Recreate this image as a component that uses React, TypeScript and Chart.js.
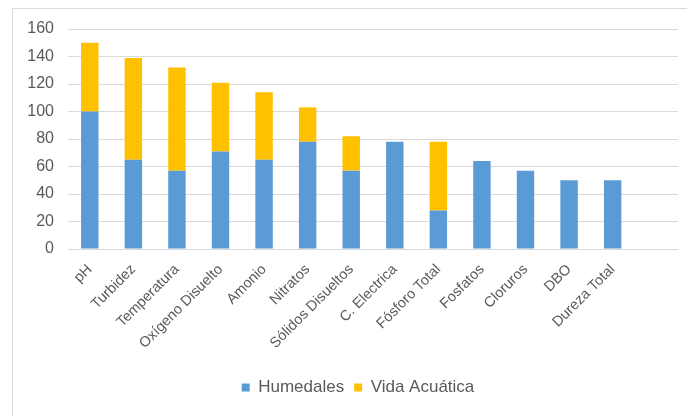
import React, { useEffect, useRef } from "react";
import { Chart, registerables } from "chart.js";

Chart.register(...registerables);

const categories = [
  "pH",
  "Turbidez",
  "Temperatura",
  "Oxígeno Disuelto",
  "Amonio",
  "Nitratos",
  "Sólidos Disueltos",
  "C. Electrica",
  "Fósforo Total",
  "Fosfatos",
  "Cloruros",
  "DBO",
  "Dureza Total",
  "",
];

const humedales = [100, 65, 57, 71, 65, 78, 57, 78, 28, 64, 57, 50, 50, null];
const vidaAcuatica = [50, 74, 75, 50, 49, 25, 25, null, 50, null, null, null, null, null];

const yTicks = [0, 20, 40, 60, 80, 100, 120, 140, 160];

const FONT = "'Liberation Sans', Arial, sans-serif";
const TEXT = "#595959";

const legendShift = {
  id: "legendShift",
  afterLayout(chart: any) {
    if (chart.legend) {
      chart.legend.left += 38;
    }
  },
};

export default function App() {
  const ref = useRef<HTMLCanvasElement | null>(null);

  useEffect(() => {
    document.body.style.overflow = "hidden";
    const canvas = ref.current;
    if (!canvas) return;
    const chart = new Chart(canvas, {
      type: "bar",
      data: {
        labels: categories,
        datasets: [
          {
            label: "Humedales",
            data: humedales,
            backgroundColor: "#5b9bd5",
            barPercentage: 0.4,
            categoryPercentage: 1,
          },
          {
            label: "Vida Acuática",
            data: vidaAcuatica,
            backgroundColor: "#ffc000",
            barPercentage: 0.4,
            categoryPercentage: 1,
          },
        ],
      },
      plugins: [legendShift],
      options: {
        responsive: false,
        animation: false,
        layout: { padding: { left: 0, right: 9, top: 29, bottom: 10 } },
        plugins: {
          tooltip: { enabled: false },
          legend: {
            position: "bottom",
            labels: {
              boxWidth: 8,
              boxHeight: 8,
              color: TEXT,
              font: { family: FONT, size: 17 },
              padding: 10,
            },
          },
        },
        scales: {
          x: {
            stacked: true,
            grid: { display: false, drawTicks: false },
            border: { display: false },
            ticks: {
              color: TEXT,
              font: { family: FONT, size: 14.5 },
              maxRotation: 45,
              minRotation: 45,
              autoSkip: false,
              padding: 12,
            },
            afterFit: (scale: any) => {
              scale.height = 120;
            },
          },
          y: {
            stacked: true,
            min: 0,
            max: 160,
            afterBuildTicks: (scale: any) => {
              scale.ticks = yTicks.map((v) => ({ value: v }));
            },
            grid: { color: "#d9d9d9", lineWidth: 1, drawTicks: false },
            border: { display: false },
            ticks: {
              color: TEXT,
              font: { family: FONT, size: 16 },
              padding: 14,
            },
            afterFit: (scale: any) => {
              scale.width = 68;
            },
          },
        },
      },
    });
    return () => chart.destroy();
  }, []);

  return (
    <div>
      <div
        style={{
          position: "fixed",
          left: 12,
          top: 8,
          width: 700,
          height: 430,
          border: "1px solid #d9d9d9",
          boxSizing: "border-box",
        }}
      />
      <canvas
        ref={ref}
        width={687}
        height={416}
        style={{ position: "fixed", left: 0, top: 0, width: 687, height: 416 }}
      />
    </div>
  );
}
